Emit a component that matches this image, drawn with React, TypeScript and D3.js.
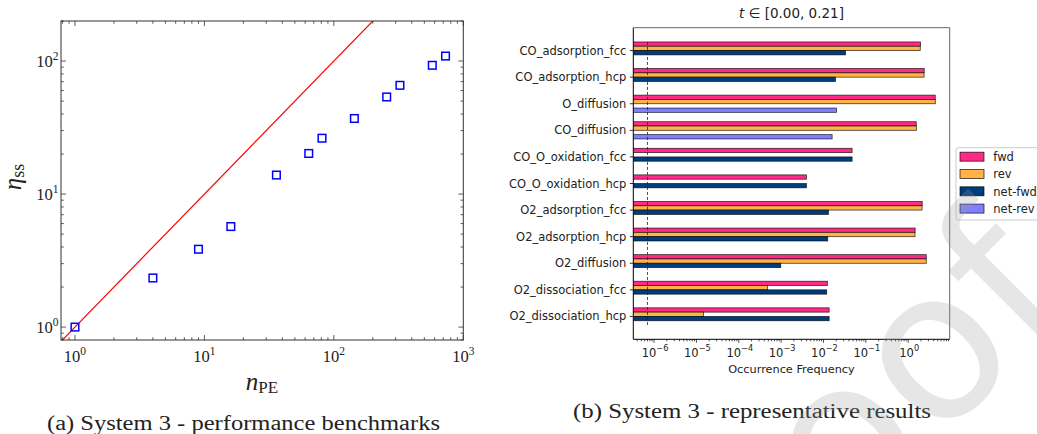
import React from "react";
import * as d3 from "d3";

// (a) performance benchmarks
const nPE = [1, 4, 9, 16, 36, 64, 81, 144, 256, 324, 576, 729];
const etaSS = [1.0, 2.34, 3.85, 5.7, 13.9, 20.2, 26.3, 37, 53.7, 65.7, 92.9, 109];
const idealLine = [0.5, 300];

// (b) representative results
const reactions = [
  "CO_adsorption_fcc",
  "CO_adsorption_hcp",
  "O_diffusion",
  "CO_diffusion",
  "CO_O_oxidation_fcc",
  "CO_O_oxidation_hcp",
  "O2_adsorption_fcc",
  "O2_adsorption_hcp",
  "O2_diffusion",
  "O2_dissociation_fcc",
  "O2_dissociation_hcp",
];
const fwd = [1.96, 2.39, 4.35, 1.55, 0.0474, 0.00396, 2.14, 1.46, 2.67, 0.0124, 0.0136];
const rev = [1.927, 2.371, 4.37, 1.566, 0, 0, 2.127, 1.447, 2.669, 0.00048, 0.0000148];
const netFwd = [0.033, 0.0192, 0, 0, 0.0474, 0.00396, 0.0131, 0.0126, 0.00098, 0.0119, 0.0136];
const netRev = [0, 0, 0.0203, 0.016, 0, 0, 0, 0, 0, 0, 0];
const seriesNames = ["fwd", "rev", "net-fwd", "net-rev"];
const seriesColors = ["#ff2a86", "#ffb347", "#003d7c", "#8080ff"];
const thresholdValue = 7e-7;
const xTickExps = [-6, -5, -4, -3, -2, -1, 0];
const leftXTickExps = [0, 1, 2, 3];
const leftYTickExps = [0, 1, 2];

const SERIF = "'Liberation Serif', 'DejaVu Serif', serif";
const SANS = "'DejaVu Sans', sans-serif";

const sup = (n: number) => (n < 0 ? "\u2212" + Math.abs(n) : String(n));

function LeftChart() {
  const L = 61, R = 463.3, T = 21, B = 340;
  const x = d3.scaleLog().domain([0.78, 1000]).range([L, R]);
  const y = d3.scaleLog().domain([0.8, 200]).range([B, T]);
  const xt = x.ticks();
  const yt = y.ticks();
  const isMajor = (v: number) => Math.abs(Math.log10(v) - Math.round(Math.log10(v))) < 1e-9;
  const stroke = "#333";
  return (
    <g>
      <defs>
        <clipPath id="clipL">
          <rect x={L} y={T} width={R - L} height={B - T} />
        </clipPath>
      </defs>
      <line
        x1={x(idealLine[0])} y1={y(idealLine[0])} x2={x(idealLine[1])} y2={y(idealLine[1])}
        stroke="#ff0000" strokeWidth={1.2} clipPath="url(#clipL)"
      />
      {nPE.map((n, i) => (
        <rect key={i} x={x(n) - 3.8} y={y(etaSS[i]) - 3.8} width={7.6} height={7.6}
          fill="none" stroke="#0000ff" strokeWidth={1.5} />
      ))}
      {xt.map((v, i) => {
        const len = isMajor(v) ? 5 : 2.8;
        return (
          <g key={i} stroke={stroke} strokeWidth={0.8}>
            <line x1={x(v)} x2={x(v)} y1={B} y2={B - len} />
            <line x1={x(v)} x2={x(v)} y1={T} y2={T + len} />
          </g>
        );
      })}
      {yt.map((v, i) => {
        const len = isMajor(v) ? 5 : 2.8;
        return (
          <g key={i} stroke={stroke} strokeWidth={0.8}>
            <line x1={L} x2={L + len} y1={y(v)} y2={y(v)} />
            <line x1={R} x2={R - len} y1={y(v)} y2={y(v)} />
          </g>
        );
      })}
      <rect x={L} y={T} width={R - L} height={B - T} fill="none" stroke={stroke} strokeWidth={1} />
      {leftXTickExps.map((e) => (
        <text key={e} x={x(Math.pow(10, e))} y={361.5} textAnchor="middle"
          fontFamily={SERIF} fontSize={16.5} fill="#222">
          10<tspan fontSize={11.5} dy={-6.5}>{sup(e)}</tspan>
        </text>
      ))}
      {leftYTickExps.map((e) => (
        <text key={e} x={58.5} y={y(Math.pow(10, e)) + 5.7} textAnchor="end"
          fontFamily={SERIF} fontSize={16.5} fill="#222">
          10<tspan fontSize={11.5} dy={-6.5}>{sup(e)}</tspan>
        </text>
      ))}
      <text x={262} y={390} textAnchor="middle" fontFamily={SERIF} fill="#222">
        <tspan fontSize={25} fontStyle="italic">n</tspan>
        <tspan fontSize={17} dy={3}>PE</tspan>
      </text>
      <text transform="translate(21,177) rotate(-90)" textAnchor="middle" fontFamily={SERIF} fill="#222">
        <tspan fontSize={25} fontStyle="italic">η</tspan>
        <tspan fontSize={18} dy={3}>ss</tspan>
      </text>
      <text x={243.5} y={430} textAnchor="middle" fontFamily={SERIF} fontSize={20}
        fill="#222" textLength={393} lengthAdjust="spacingAndGlyphs">
        (a) System 3 - performance benchmarks
      </text>
    </g>
  );
}

function RightChart() {
  const L = 633.3, R = 949.7, T = 27.7, B = 339.3;
  const x = d3.scaleLog().domain([Math.pow(10, -6.49), Math.pow(10, 0.98)]).range([L, R]);
  const y = d3.scaleLinear().domain([-0.86, reactions.length - 1 + 0.86]).range([T, B]);
  const h = 0.162;
  const series = [fwd, rev, netFwd, netRev];
  const offsets = [-1.5, -0.5, 0.5, 1.5];
  const xt = x.ticks();
  const isMajor = (v: number) => Math.abs(Math.log10(v) - Math.round(Math.log10(v))) < 1e-9;
  const ph = y(h) - y(0);
  return (
    <g>
      <defs>
        <clipPath id="clipR">
          <rect x={L} y={T} width={R - L} height={B - T} />
        </clipPath>
      </defs>
      <g clipPath="url(#clipR)">
        {series.map((vals, s) =>
          vals.map((v, i) =>
            v > 0 ? (
              <rect key={s + "-" + i} x={L - 2} y={y(i + offsets[s] * h - h / 2)}
                width={x(v) - L + 2} height={ph} fill={seriesColors[s]}
                stroke="#000" strokeOpacity={0.75} strokeWidth={0.8} />
            ) : null
          )
        )}
      </g>
      <line x1={x(thresholdValue)} x2={x(thresholdValue)} y1={y(-2 * h)} y2={y(reactions.length - 1 + 2 * h)}
        stroke="#222" strokeWidth={0.8} strokeDasharray="3,2" />
      <line x1={L} x2={L} y1={T} y2={B} stroke="#000" strokeWidth={1} />
      <line x1={L} x2={R} y1={B} y2={B} stroke="#000" strokeWidth={1} />
      <line x1={L} x2={R} y1={T} y2={T} stroke="#666" strokeWidth={1} />
      <line x1={R} x2={R} y1={T} y2={B} stroke="#666" strokeWidth={1} />
      {reactions.map((r, i) => (
        <g key={r}>
          <line x1={L - 3.5} x2={L} y1={y(i)} y2={y(i)} stroke="#000" strokeWidth={0.8} />
          <text x={L - 7} y={y(i) + 4} textAnchor="end" fontFamily={SANS} fontSize={11.5} fill="#222">{r}</text>
        </g>
      ))}
      {xt.map((v, i) => (
        <line key={i} x1={x(v)} x2={x(v)} y1={B} y2={B + (isMajor(v) ? 3.5 : 2)} stroke="#000" strokeWidth={0.7} />
      ))}
      {xTickExps.map((e) => (
        <text key={e} x={x(Math.pow(10, e)) + 1} y={356.5} textAnchor="middle" fontFamily={SANS} fontSize={11.5} fill="#222">
          10<tspan fontSize={8.2} dy={-6}>{sup(e)}</tspan>
        </text>
      ))}
      <text x={(L + R) / 2} y={373} textAnchor="middle" fontFamily={SANS} fontSize={11.3} fill="#222">
        Occurrence Frequency
      </text>
      <text x={(L + R) / 2} y={18} textAnchor="middle" fontFamily={SANS} fontSize={13.5} fill="#222">
        <tspan fontStyle="italic">t</tspan> ∈ [0.00, 0.21]
      </text>
      <g>
        <rect x={956} y={147.7} width={100} height={72.3} rx={2.5} fill="#fff" stroke="#ccc" strokeWidth={1} />
        {seriesNames.map((n, i) => (
          <g key={n}>
            <rect x={960} y={152.2 + i * 17.3} width={24} height={9} fill={seriesColors[i]} stroke="#000" strokeOpacity={0.8} strokeWidth={0.8} />
            <text x={993.3} y={161 + i * 17.3} fontFamily={SANS} fontSize={11.5} fill="#222">{n}</text>
          </g>
        ))}
      </g>
      <text x={752} y={418} textAnchor="middle" fontFamily={SERIF} fontSize={20}
        fill="#222" textLength={358} lengthAdjust="spacingAndGlyphs">
        (b) System 3 - representative results
      </text>
    </g>
  );
}

export default function App() {
  return (
    <svg width={1037} height={434} viewBox="0 0 1037 434"
      style={{ position: "absolute", left: 0, top: 0, background: "#fff" }}>
      <rect width={1037} height={434} fill="#fff" />
      <LeftChart />
      <RightChart />
      <text transform="translate(1077,303) rotate(-45)" textAnchor="end" fontFamily={SANS}
        fontSize={208} fill="#9a9a9a" fillOpacity={0.25} pointerEvents="none">
        Proof
      </text>
    </svg>
  );
}
